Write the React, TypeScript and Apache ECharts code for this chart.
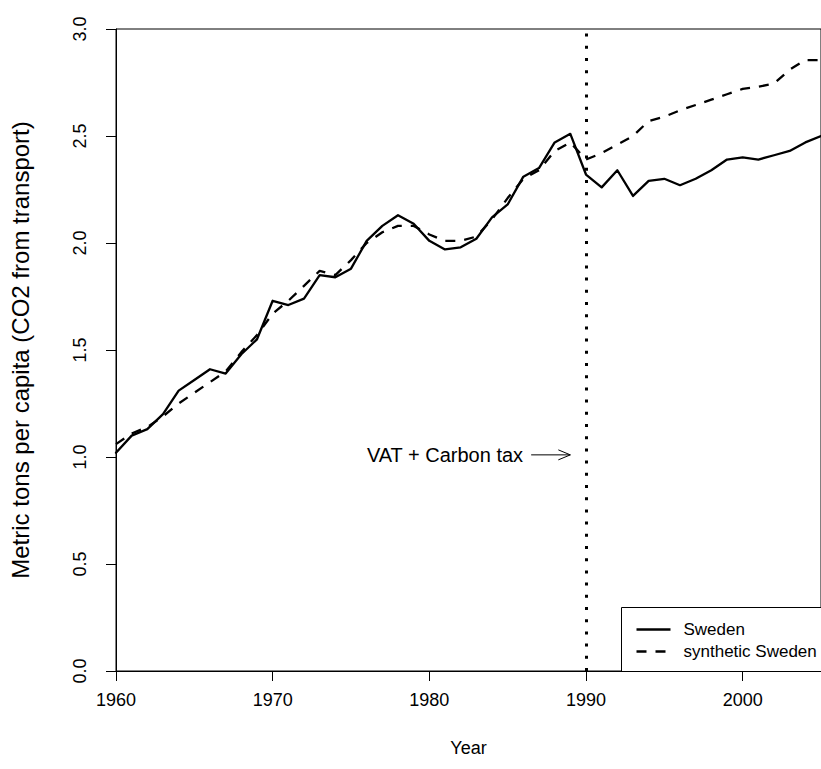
import React, { useEffect, useRef } from "react";
import * as echarts from "echarts";

const years: number[] = [
  1960, 1961, 1962, 1963, 1964, 1965, 1966, 1967, 1968, 1969,
  1970, 1971, 1972, 1973, 1974, 1975, 1976, 1977, 1978, 1979,
  1980, 1981, 1982, 1983, 1984, 1985, 1986, 1987, 1988, 1989,
  1990, 1991, 1992, 1993, 1994, 1995, 1996, 1997, 1998, 1999,
  2000, 2001, 2002, 2003, 2004, 2005,
];

const sweden: number[] = [
  1.02, 1.10, 1.13, 1.20, 1.31, 1.36, 1.41, 1.39, 1.48, 1.55,
  1.73, 1.71, 1.74, 1.85, 1.84, 1.88, 2.01, 2.08, 2.13, 2.09,
  2.01, 1.97, 1.98, 2.02, 2.12, 2.18, 2.31, 2.35, 2.47, 2.51,
  2.32, 2.26, 2.34, 2.22, 2.29, 2.30, 2.27, 2.30, 2.34, 2.39,
  2.40, 2.39, 2.41, 2.43, 2.47, 2.50,
];

const syntheticSweden: number[] = [
  1.06, 1.11, 1.14, 1.19, 1.25, 1.30, 1.35, 1.40, 1.49, 1.57,
  1.67, 1.73, 1.80, 1.87, 1.85, 1.92, 2.00, 2.05, 2.08, 2.08,
  2.04, 2.01, 2.01, 2.03, 2.11, 2.21, 2.30, 2.34, 2.43, 2.47,
  2.39, 2.42, 2.46, 2.50, 2.57, 2.59, 2.62, 2.645, 2.67, 2.695,
  2.72, 2.73, 2.745, 2.81, 2.855, 2.855,
];

const seriesNames: string[] = ["Sweden", "synthetic Sweden"];
const treatmentYear = 1990;
const annotationText = "VAT + Carbon tax";
const xTickLabels: number[] = [1960, 1970, 1980, 1990, 2000];
const yTickLabels: number[] = [0, 0.5, 1, 1.5, 2, 2.5, 3];

const FONT = '"Liberation Sans", Arial, Helvetica, sans-serif';

export default function App() {
  const ref = useRef<HTMLDivElement>(null);

  useEffect(() => {
    if (!ref.current) return;
    const chart = echarts.init(ref.current, null, { renderer: "svg" });

    const swedenData = years.map((y, i) => [y, sweden[i]]);
    const synthData = years.map((y, i) => [y, syntheticSweden[i]]);

    const option: any = {
      animation: false,
      backgroundColor: "#ffffff",
      textStyle: { fontFamily: FONT, color: "#000" },
      grid: {
        left: 107,
        top: 29,
        width: 721,
        height: 642,
        show: true,
        borderColor: "#000",
        borderWidth: 1,
        containLabel: false,
      },
      xAxis: {
        type: "value",
        min: 1960,
        max: 2005,
        interval: 10,
        name: "Year",
        nameLocation: "middle",
        nameGap: 68,
        nameTextStyle: { fontSize: 18, color: "#000", fontFamily: FONT },
        axisLine: { show: true, onZero: false, lineStyle: { color: "#000", width: 1 } },
        axisTick: { show: true, inside: false, length: 10, lineStyle: { color: "#000", width: 1 } },
        axisLabel: {
          show: true,
          margin: 20,
          fontSize: 18,
          color: "#000",
          fontFamily: FONT,
          showMaxLabel: false,
          formatter: (v: number) => (xTickLabels.indexOf(v) >= 0 ? String(v) : ""),
        },
        splitLine: { show: false },
      },
      yAxis: {
        type: "value",
        min: 0,
        max: 3,
        interval: 0.5,
        name: "Metric tons per capita (CO2 from transport)",
        nameLocation: "middle",
        nameGap: 84,
        nameRotate: 90,
        nameTextStyle: { fontSize: 24, color: "#000", fontFamily: FONT },
        axisLine: { show: true, onZero: false, lineStyle: { color: "#000", width: 1 } },
        axisTick: { show: true, inside: false, length: 10, lineStyle: { color: "#000", width: 1 } },
        axisLabel: {
          show: true,
          rotate: 90,
          margin: 27,
          fontSize: 18,
          color: "#000",
          fontFamily: FONT,
          formatter: (v: number) => (yTickLabels.indexOf(v) >= 0 ? v.toFixed(1) : ""),
        },
        splitLine: { show: false },
      },
      series: [
        {
          name: seriesNames[0],
          type: "line",
          data: swedenData,
          showSymbol: false,
          symbol: "none",
          lineStyle: { color: "#000", width: 2.3, type: "solid", join: "round", cap: "round" },
          z: 3,
          markLine: {
            silent: true,
            symbol: ["none", "none"],
            label: { show: false },
            lineStyle: { color: "#000", width: 3, type: [3, 9.2] },
            data: [{ xAxis: treatmentYear }],
          },
        },
        {
          name: seriesNames[1],
          type: "line",
          data: synthData,
          showSymbol: false,
          symbol: "none",
          lineStyle: { color: "#000", width: 2.3, type: [10, 9], join: "round" },
          z: 2,
        },
        {
          name: "annotation",
          type: "custom",
          silent: true,
          clip: false,
          data: [[1981, 1.01, 1986.5, 1989.0]],
          renderItem: (params: any, api: any) => {
            const pText = api.coord([api.value(0), api.value(1)]);
            const p1 = api.coord([api.value(2), api.value(1)]);
            const p2 = api.coord([api.value(3), api.value(1)]);
            return {
              type: "group",
              children: [
                {
                  type: "text",
                  x: pText[0],
                  y: pText[1],
                  style: {
                    text: annotationText,
                    fontSize: 20,
                    fontFamily: FONT,
                    fill: "#000",
                    align: "center",
                    verticalAlign: "middle",
                  },
                },
                {
                  type: "line",
                  shape: { x1: p1[0], y1: p1[1], x2: p2[0], y2: p2[1] },
                  style: { stroke: "#000", lineWidth: 1 },
                },
                {
                  type: "polyline",
                  shape: {
                    points: [
                      [p2[0] - 12, p2[1] - 5],
                      [p2[0], p2[1]],
                      [p2[0] - 12, p2[1] + 5],
                    ],
                  },
                  style: { stroke: "#000", fill: null, lineWidth: 1 },
                },
              ],
            };
          },
        },
      ],
      graphic: [
        {
          type: "group",
          left: 621,
          top: 607,
          z: 100,
          children: [
            {
              type: "rect",
              shape: { x: 0, y: 0, width: 220, height: 64 },
              style: { fill: "#fff", stroke: "#000", lineWidth: 1 },
            },
            {
              type: "line",
              shape: { x1: 15, y1: 22, x2: 49, y2: 22 },
              style: { stroke: "#000", lineWidth: 2.3 },
            },
            {
              type: "line",
              shape: { x1: 15, y1: 44, x2: 49, y2: 44 },
              style: { stroke: "#000", lineWidth: 2.3, lineDash: [10, 9] },
            },
            {
              type: "text",
              x: 62,
              y: 22,
              style: {
                text: seriesNames[0],
                fontSize: 17,
                fontFamily: FONT,
                fill: "#000",
                align: "left",
                verticalAlign: "middle",
              },
            },
            {
              type: "text",
              x: 62,
              y: 44,
              style: {
                text: seriesNames[1],
                fontSize: 17,
                fontFamily: FONT,
                fill: "#000",
                align: "left",
                verticalAlign: "middle",
              },
            },
          ],
        },
      ],
    };

    chart.setOption(option);
    return () => {
      chart.dispose();
    };
  }, []);

  return (
    <div
      ref={ref}
      style={{ position: "fixed", left: 0, top: 0, width: 821, height: 769, background: "#fff" }}
    />
  );
}
